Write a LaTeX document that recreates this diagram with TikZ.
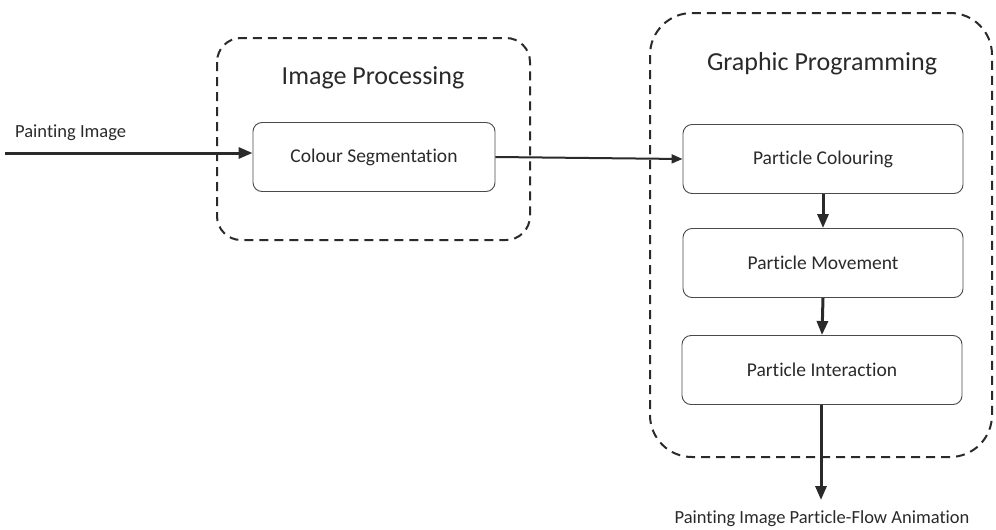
\documentclass[tikz,border=0pt]{standalone}
\usepackage{fontspec}
\setmainfont{Carlito}[Ligatures=NoCommon]
\usetikzlibrary{arrows.meta}
\definecolor{ink}{HTML}{2A2A2A}
\definecolor{edge}{HTML}{4A4A4A}
\tikzset{
  group/.style={draw=ink, line width=2pt, dash pattern=on 9pt off 6pt, rounded corners=#1},
  stage/.style={draw=edge, line width=0.9pt, rounded corners=9pt, minimum width=280pt,
    minimum height=69pt, inner sep=0pt, font=\fontsize{19.5}{22}\selectfont, text=ink},
  grouptitle/.style={font=\fontsize{26}{30}\selectfont, text=ink, inner sep=0pt},
  label/.style={font=\fontsize{18.5}{22}\selectfont, text=ink, inner sep=0pt},
  flow/.style={draw=ink, line width=3pt, -{Triangle[length=14pt,width=11pt]}},
  thinflow/.style={draw=ink, line width=2pt, -{Triangle[length=11pt,width=9pt]}}
}
\begin{document}
\begin{tikzpicture}[x=1pt,y=-1pt]
  \useasboundingbox (0,0) rectangle (996,530);

  % dashed group frames
  \draw[group=24pt] (217,38) rectangle (530,240);
  \draw[group=42pt] (650,13) rectangle (992,457);
  \node[grouptitle] (t1) at (373,78) {Image Processing};
  \node[grouptitle] (t2) at (822,64) {Graphic Programming};

  % processing stages
  \node[stage, minimum width=242pt] (seg) at (374,157) {Colour Segmentation};
  \node[stage] (col) at (823,159) {Particle Colouring};
  \node[stage] (mov) at (823,263) {Particle Movement};
  \node[stage] (int) at (822,370) {Particle Interaction};

  % input and output
  \coordinate (in) at (5,153);
  \node[label, anchor=west] (inlabel) at (15,133) {Painting Image};
  \coordinate (out) at (821,500);
  \node[label] (outlabel) at (822,519) {Painting Image Particle-Flow Animation};

  % connectors
  \draw[flow] (in) -- (seg.west |- in);
  \draw[thinflow] (seg.east) -- (col.west);
  \draw[flow] (col.south) -- (mov.north);
  \draw[flow] (mov.south) -- (int.north);
  \draw[flow] (int.south -| out) -- (out);
\end{tikzpicture}
\end{document}
